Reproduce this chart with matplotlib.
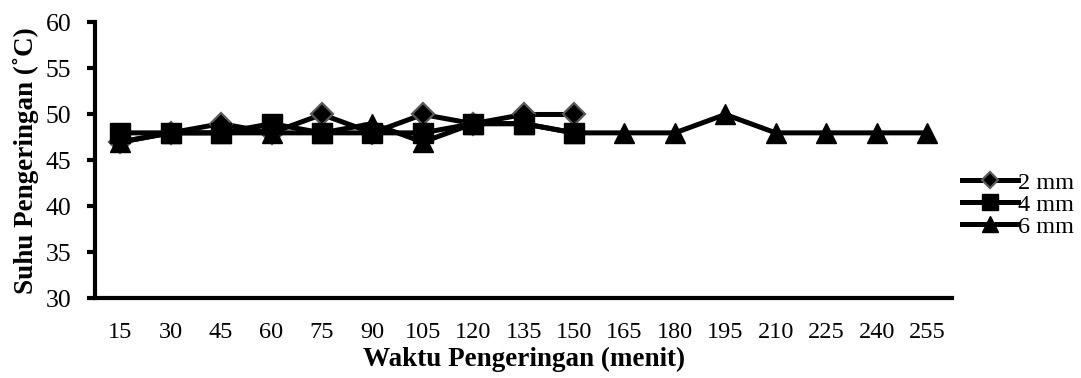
import matplotlib
matplotlib.use("Agg")
import matplotlib.pyplot as plt

plt.rcParams['font.family'] = ['Liberation Serif', 'DejaVu Serif']

waktu = [15, 30, 45, 60, 75, 90, 105, 120, 135, 150, 165, 180, 195, 210, 225, 240, 255]
suhu_2mm = [47, 48, 49, 48, 50, 48, 50, 49, 50, 50]
suhu_4mm = [48, 48, 48, 49, 48, 48, 48, 49, 49, 48]
suhu_6mm = [47, 48, 48, 48, 48, 49, 47, 49, 49, 48, 48, 48, 50, 48, 48, 48, 48]

fig = plt.figure(figsize=(10.81, 3.78), dpi=100)
ax = fig.add_axes([0.0879, 0.2105, 0.793, 0.730])

x = list(range(len(waktu)))
ax.plot(x[:len(suhu_2mm)], suhu_2mm, color='black', lw=3.6, marker='D', ms=11,
        mfc='black', mec='#5a5a5a', mew=1.6, label='2 mm', zorder=3)
ax.plot(x[:len(suhu_4mm)], suhu_4mm, color='black', lw=3.6, marker='s', ms=14.5,
        mfc='black', mec='black', label='4 mm', zorder=4)
ax.plot(x, suhu_6mm, color='black', lw=3.6, marker='^', ms=14,
        mfc='black', mec='black', label='6 mm', zorder=5)

ax.set_xlim(-0.5, len(waktu) - 0.5)
ax.set_ylim(30, 60)
ax.set_yticks(range(30, 61, 5))
ax.set_xticks(x)
ax.set_xticklabels([str(w) for w in waktu])

for s in ['top', 'right']:
    ax.spines[s].set_visible(False)
ax.spines['left'].set_linewidth(3)
ax.spines['bottom'].set_linewidth(3)
ax.tick_params(axis='y', length=6, width=3, labelsize=18.5, pad=11)
ax.tick_params(axis='x', length=0, labelsize=17.5, pad=17)

ax.set_xlabel('Waktu Pengeringan (menit)', fontsize=19.5, fontweight='bold', labelpad=3)
ax.set_ylabel('Suhu Pengeringan (˚C)', fontsize=19.5, fontweight='bold', labelpad=5)

leg = ax.legend(loc='center left', bbox_to_anchor=(1.0, 0.34), frameon=False,
                fontsize=17.5, handlelength=2.3, handletextpad=0.0,
                labelspacing=0.0, borderaxespad=0)
for h, ms in zip(leg.legend_handles, [8, 11, 11]):
    h.set_markersize(ms)

fig.savefig('out.png', dpi=100)
